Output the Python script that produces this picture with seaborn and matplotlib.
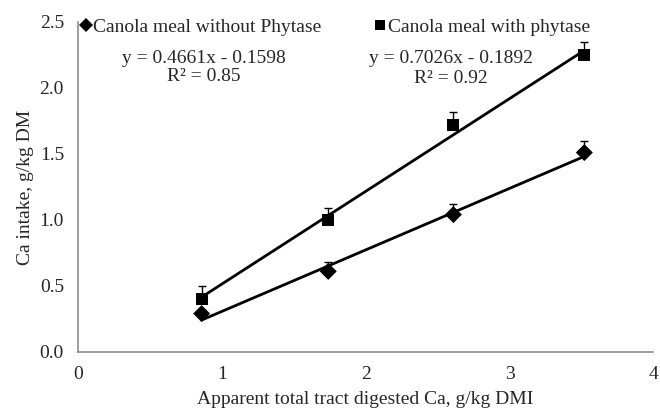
import numpy as np
import pandas as pd
import matplotlib
matplotlib.use('Agg')
import matplotlib.pyplot as plt
import seaborn as sns

# data
digested_ca = [0.86, 1.74, 2.61, 3.52]
intake_without = [0.29, 0.61, 1.04, 1.51]
err_without = [0.03, 0.07, 0.08, 0.09]
intake_with = [0.40, 1.00, 1.72, 2.25]
err_with = [0.10, 0.09, 0.10, 0.10]

series_names = ['Canola meal without Phytase', 'Canola meal with phytase']
slopes = [0.4661, 0.7026]
intercepts = [-0.1598, -0.1892]
r2_values = [0.85, 0.92]

sns.set_style('white')
plt.rcParams['font.family'] = ['Liberation Serif', 'DejaVu Serif']
plt.rcParams['font.size'] = 14

fig, ax = plt.subplots(figsize=(6.6, 4.13), dpi=100)
fig.subplots_adjust(left=0.118, right=0.99, bottom=0.148, top=0.947)

df = pd.DataFrame({
    'x': digested_ca * 2,
    'y': intake_without + intake_with,
    'series': [series_names[0]] * 4 + [series_names[1]] * 4,
})

# trend lines from the printed equations
for s, b in zip(slopes, intercepts):
    xs = np.array([digested_ca[0], digested_ca[-1]])
    sns.lineplot(x=xs, y=s * xs + b, color='black', lw=2, ax=ax, zorder=2)

# upper error bars only
ax.errorbar(digested_ca, intake_without, yerr=[np.zeros(4), err_without],
            fmt='none', ecolor='black', elinewidth=1, capsize=3, zorder=1)
ax.errorbar(digested_ca, intake_with, yerr=[np.zeros(4), err_with],
            fmt='none', ecolor='black', elinewidth=1, capsize=3, zorder=1)

sns.scatterplot(data=df, x='x', y='y', style='series', hue='series',
                markers={series_names[0]: 'D', series_names[1]: 's'},
                palette={series_names[0]: 'black', series_names[1]: 'black'},
                s=75, edgecolor='black', linewidth=0, ax=ax, zorder=3)

handles, labels = ax.get_legend_handles_labels()
for h in handles:
    h.set_markersize(7)
ax.legend(handles, labels, ncol=2, loc='center left', bbox_to_anchor=(0.0, 0.985),
          frameon=False, handletextpad=0.0, handlelength=0.8, borderpad=0,
          columnspacing=2.6, borderaxespad=0, fontsize=14)

ax.text(0.876, 2.22, f'y = {slopes[0]}x - {abs(intercepts[0])}', ha='center', va='center')
ax.text(0.876, 2.09, f'R² = {r2_values[0]}', ha='center', va='center')
ax.text(2.59, 2.225, f'y = {slopes[1]}x - {abs(intercepts[1])}', ha='center', va='center')
ax.text(2.59, 2.07, f'R² = {r2_values[1]}', ha='center', va='center')

ax.set_xlim(0, 4)
ax.set_ylim(0, 2.5)
ax.set_xticks([0, 1, 2, 3, 4])
ax.set_yticks([0, 0.5, 1.0, 1.5, 2.0, 2.5])
ax.set_yticklabels(['0.0', '0.5', '1.0', '1.5', '2.0', '2.5'])
ax.tick_params(length=0, labelsize=14, pad=10)

ax.set_xlabel('Apparent total tract digested Ca, g/kg DMI', fontsize=14, labelpad=6)
ax.set_ylabel('Ca intake, g/kg DM', fontsize=14, labelpad=4)

sns.despine(ax=ax)
for side in ['left', 'bottom']:
    ax.spines[side].set_color('#8c8c8c')
    ax.spines[side].set_linewidth(1.2)

plt.savefig('out.png', dpi=100)
